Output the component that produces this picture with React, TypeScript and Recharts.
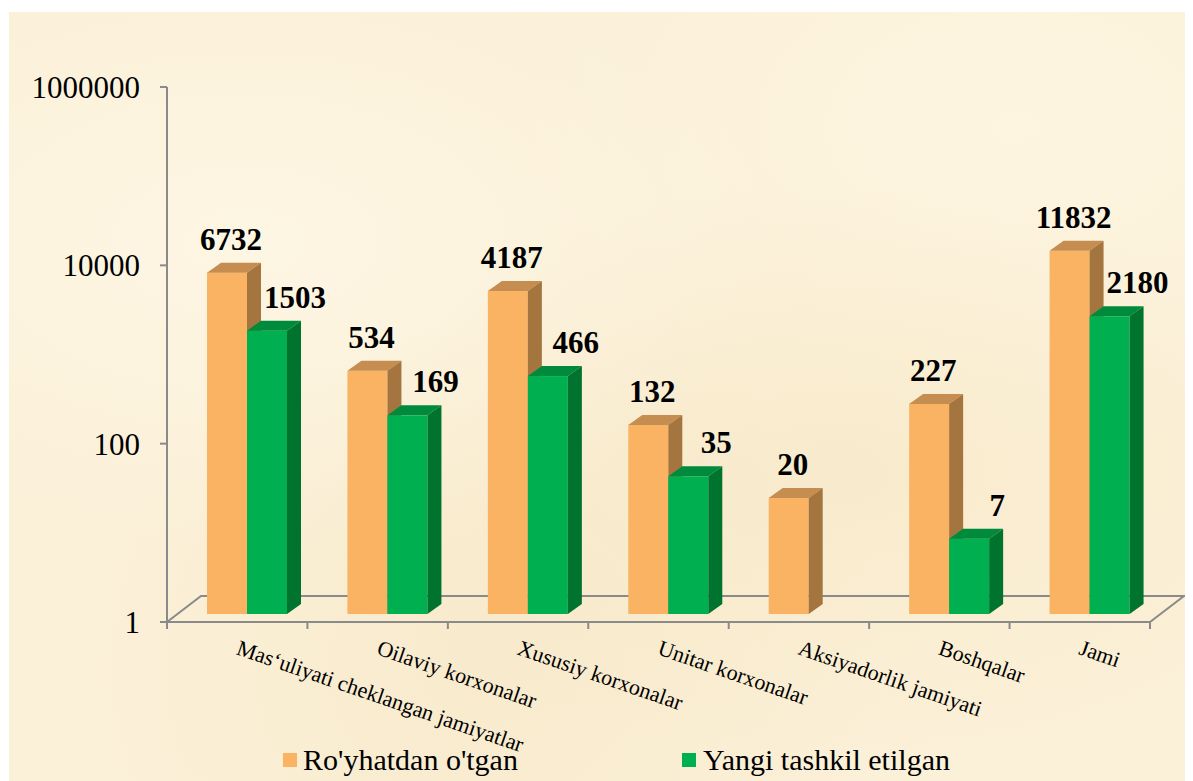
import { Bar, BarChart, LabelList, Legend, ReferenceLine, XAxis, YAxis } from "recharts";

const categories = [
  "Mas‘uliyati cheklangan jamiyatlar",
  "Oilaviy korxonalar",
  "Xususiy korxonalar",
  "Unitar korxonalar",
  "Aksiyadorlik jamiyati",
  "Boshqalar",
  "Jami",
];
const registered = [6732, 534, 4187, 132, 20, 227, 11832];
const newlyCreated: (number | null)[] = [1503, 169, 466, 35, null, 7, 2180];
const yTicks = [1, 100, 10000, 1000000];

const seriesNames = { registered: "Ro'yhatdan o'tgan", newlyCreated: "Yangi tashkil etilgan" };

const data = categories.map((name, i) => ({
  name,
  registered: registered[i],
  newlyCreated: newlyCreated[i],
}));

const SERIF = '"Liberation Serif", "Times New Roman", serif';
const AXIS = "#8a8a8a";
const SHIFT_X = 10;
const LIFT = 8;
const DEPTH_X = 14;
const DEPTH_Y = 10;

const colors = {
  registered: { front: "#f9b363", top: "#c58d4f", side: "#a5753f" },
  newlyCreated: { front: "#00b050", top: "#008a3b", side: "#00732f" },
};

function makeBox(c: { front: string; top: string; side: string }) {
  return (props: any) => {
    const { x, y, width, height } = props;
    if (height == null || height <= 0 || isNaN(y)) return null;
    const fx = x + SHIFT_X;
    const fy = y - LIFT;
    const w = width;
    return (
      <g>
        <rect x={fx} y={fy} width={w} height={height} fill={c.front} />
        <polygon
          points={`${fx},${fy} ${fx + DEPTH_X},${fy - DEPTH_Y} ${fx + w + DEPTH_X},${fy - DEPTH_Y} ${fx + w},${fy}`}
          fill={c.top}
        />
        <polygon
          points={`${fx + w},${fy} ${fx + w + DEPTH_X},${fy - DEPTH_Y} ${fx + w + DEPTH_X},${fy + height - DEPTH_Y} ${fx + w},${fy + height}`}
          fill={c.side}
        />
      </g>
    );
  };
}

function makeLabel(dx: number) {
  return (props: any) => {
    const { x, y, width, value } = props;
    if (value == null) return null;
    return (
      <text
        x={x + SHIFT_X + width / 2 + dx}
        y={y - LIFT - 23}
        textAnchor="middle"
        fontFamily={SERIF}
        fontWeight="bold"
        fontSize={31}
        fill="#000"
      >
        {value}
      </text>
    );
  };
}

const Floor = (props: any) => {
  const { x1, y1, x2 } = props;
  const bx = 34;
  const by = 26;
  return (
    <g stroke={AXIS} strokeWidth={2} fill="none">
      <polyline points={`${x1},${y1} ${x1 + bx},${y1 - by} ${x2 + bx},${y1 - by} ${x2},${y1}`} />
    </g>
  );
};

const CategoryTick = (props: any) => {
  const { x, y, payload, index } = props;
  const half = payload.offset || 70;
  const ty = y + 32;
  return (
    <g>
      <line x1={x - half} y1={y} x2={x - half} y2={y + 7} stroke={AXIS} strokeWidth={2} />
      {index === categories.length - 1 && (
        <line x1={x + half} y1={y} x2={x + half} y2={y + 7} stroke={AXIS} strokeWidth={2} />
      )}
      <text
        x={x - 2}
        y={ty}
        transform={`rotate(19, ${x - 2}, ${ty})`}
        textAnchor="start"
        fontFamily={SERIF}
        fontSize={22}
        fill="#000"
      >
        {payload.value}
      </text>
    </g>
  );
};

const LegendContent = () => (
  <div style={{ display: "flex", fontFamily: SERIF, fontSize: 30, color: "#000", lineHeight: "34px" }}>
    <div style={{ display: "flex", alignItems: "center", width: 399 }}>
      <span style={{ width: 14, height: 14, background: colors.registered.front, marginRight: 6 }} />
      {seriesNames.registered}
    </div>
    <div style={{ display: "flex", alignItems: "center" }}>
      <span style={{ width: 14, height: 14, background: colors.newlyCreated.front, marginRight: 7 }} />
      {seriesNames.newlyCreated}
    </div>
  </div>
);

export default function App() {
  return (
    <div
      style={{
        marginTop: 4,
        marginLeft: 1,
        width: 1184,
        height: 769,
        backgroundColor: "#fbf0d8",
        backgroundImage:
          "radial-gradient(ellipse at 20% 30%, rgba(255,250,235,0.6), transparent 40%), radial-gradient(ellipse at 70% 60%, rgba(245,228,190,0.45), transparent 45%), radial-gradient(ellipse at 85% 15%, rgba(255,248,230,0.6), transparent 35%), radial-gradient(ellipse at 40% 85%, rgba(243,226,188,0.4), transparent 40%)",
      }}
    >
      <BarChart
        width={1184}
        height={769}
        data={data}
        margin={{ top: 75, right: 43, left: 0, bottom: 0 }}
        barGap={0}
        barSize={40}
      >
        <ReferenceLine y={1} ifOverflow="visible" shape={Floor} zIndex={-10} />
        <XAxis
          dataKey="name"
          height={159}
          interval={0}
          tickSize={0}
          tickMargin={0}
          axisLine={{ stroke: AXIS, strokeWidth: 2 }}
          tick={<CategoryTick />}
        />
        <YAxis
          scale="log"
          domain={[1, 1000000]}
          ticks={yTicks}
          allowDataOverflow
          width={158}
          tickSize={7}
          tickMargin={20}
          axisLine={{ stroke: AXIS, strokeWidth: 2 }}
          tickLine={{ stroke: AXIS, strokeWidth: 2 }}
          tick={{ fontFamily: SERIF, fontSize: 31, fill: "#000" }}
          tickFormatter={(v: number) => String(v)}
        />
        <Legend
          layout="horizontal"
          verticalAlign="middle"
          align="center"
          wrapperStyle={{ top: 731, left: 274, width: 720 }}
          content={<LegendContent />}
        />
        <Bar
          dataKey="registered"
          name={seriesNames.registered}
          fill={colors.registered.front}
          shape={makeBox(colors.registered)}
          isAnimationActive={false}
        >
          <LabelList dataKey="registered" content={makeLabel(4)} />
        </Bar>
        <Bar
          dataKey="newlyCreated"
          name={seriesNames.newlyCreated}
          fill={colors.newlyCreated.front}
          shape={makeBox(colors.newlyCreated)}
          isAnimationActive={false}
        >
          <LabelList dataKey="newlyCreated" content={makeLabel(28)} />
        </Bar>
      </BarChart>
    </div>
  );
}
